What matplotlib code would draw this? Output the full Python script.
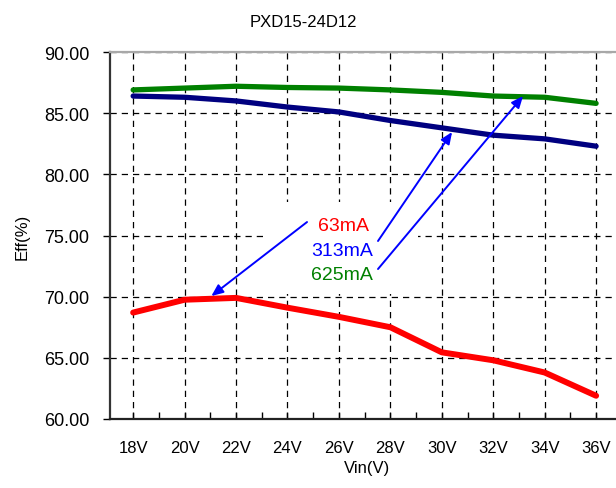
import matplotlib.pyplot as plt
from matplotlib.patches import Rectangle
from matplotlib.ticker import FixedLocator

plt.rcParams['font.family'] = ['Liberation Sans', 'DejaVu Sans']

# data
vin = ['18V', '20V', '22V', '24V', '26V', '28V', '30V', '32V', '34V', '36V']
eff_63 = [68.7, 69.75, 69.9, 69.1, 68.35, 67.5, 65.45, 64.8, 63.8, 61.9]
eff_313 = [86.4, 86.3, 86.0, 85.5, 85.1, 84.4, 83.8, 83.2, 82.9, 82.3]
eff_625 = [86.9, 87.05, 87.2, 87.1, 87.05, 86.9, 86.7, 86.4, 86.3, 85.8]
yticks = [60, 65, 70, 75, 80, 85, 90]

fig = plt.figure(figsize=(6.16, 4.89), dpi=100)
ax = fig.add_axes([110/616, 69/489, 514.4/616, 367/489])

x = list(range(len(vin)))
ax.plot(x, eff_625, color='#008000', lw=3.8, solid_capstyle='round', zorder=4)
ax.plot(x, eff_313, color='#000080', lw=3.8, solid_capstyle='round', zorder=4)
ax.plot(x, eff_63, color='#ff0000', lw=4.3, solid_capstyle='round', zorder=4)

ax.set_xlim(-0.45, 9.55)
ax.set_ylim(60, 90)
ax.set_xticks(x)
ax.set_xticklabels(vin)
ax.xaxis.set_minor_locator(FixedLocator([i + 0.5 for i in range(-1, len(vin))]))
ax.set_yticks(yticks)
ax.set_yticklabels(['%.2f' % v for v in yticks])

ax.grid(True, which='major', color='black', linestyle=(0, (5, 4)), lw=0.9, zorder=1)
ax.set_axisbelow(True)

ax.tick_params(axis='x', which='major', direction='in', length=5, width=1, pad=15, labelsize=12)
ax.tick_params(axis='x', which='minor', direction='in', length=5, width=1)
ax.tick_params(axis='y', which='major', direction='out', length=5, width=1, pad=10, labelsize=13)

ax.spines['right'].set_visible(False)
ax.spines['top'].set_color('#a8a8a8')
ax.spines['top'].set_linewidth(1.6)
ax.spines['left'].set_color('#333333')
ax.spines['left'].set_linewidth(1.6)
ax.spines['bottom'].set_color('#222222')
ax.spines['bottom'].set_linewidth(1.6)

ax.set_xlabel('Vin(V)', fontsize=12, labelpad=4)
ax.set_ylabel('Eff(%)', fontsize=12, labelpad=10)
fig.text(0.492, 0.955, 'PXD15-24D12', ha='center', va='center', fontsize=12)

# white box behind the labels, hides the grid
ax.add_patch(Rectangle((2.6, 70.25), 2.94, 7.5, facecolor='white', edgecolor='none', zorder=2))
ax.text(4.08, 75.8, '63mA', color='#ff0000', fontsize=14, ha='center', va='center', zorder=3)
ax.text(4.06, 73.8, '313mA', color='#0000ff', fontsize=14, ha='center', va='center', zorder=3)
ax.text(4.06, 71.85, '625mA', color='#008000', fontsize=14, ha='center', va='center', zorder=3)

arrow = dict(arrowstyle='-|>,head_length=0.7,head_width=0.3', color='#0000ff', lw=1.4,
             shrinkA=0, shrinkB=0)
ax.annotate('', xy=(1.52, 70.05), xytext=(3.38, 76.1), arrowprops=arrow, zorder=5)
ax.annotate('', xy=(6.2, 83.46), xytext=(4.76, 74.55), arrowprops=arrow, zorder=5)
ax.annotate('', xy=(7.58, 86.4), xytext=(4.76, 72.26), arrowprops=arrow, zorder=5)

fig.savefig('out.png', dpi=100)
